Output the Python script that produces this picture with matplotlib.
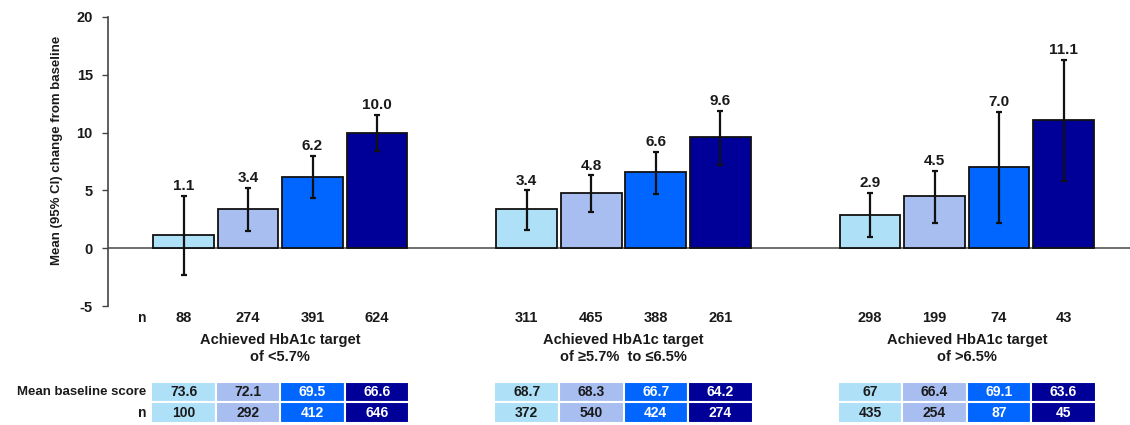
import numpy as np
import matplotlib.pyplot as plt
from matplotlib.transforms import blended_transform_factory

plt.rcParams['font.family'] = ['Liberation Sans', 'DejaVu Sans']
plt.rcParams['font.weight'] = 'bold'
plt.rcParams['axes.labelweight'] = 'bold'
plt.rcParams['axes.unicode_minus'] = False

# mean change, lower and upper 95% CI per target group (4 subgroups each)
groups = ["Achieved HbA1c target\nof <5.7%",
          "Achieved HbA1c target\nof \u22655.7%  to \u22646.5%",
          "Achieved HbA1c target\nof >6.5%"]
means = [[1.1, 3.4, 6.2, 10.0],
         [3.4, 4.8, 6.6, 9.6],
         [2.9, 4.5, 7.0, 11.1]]
ci_low = [[-2.3, 1.5, 4.3, 8.4],
          [1.6, 3.1, 4.7, 7.2],
          [1.0, 2.2, 2.2, 5.8]]
ci_high = [[4.5, 5.2, 8.0, 11.5],
           [5.0, 6.3, 8.3, 11.9],
           [4.8, 6.7, 11.8, 16.3]]
n_change = [[88, 274, 391, 624],
            [311, 465, 388, 261],
            [298, 199, 74, 43]]
baseline = [["73.6", "72.1", "69.5", "66.6"],
            ["68.7", "68.3", "66.7", "64.2"],
            ["67", "66.4", "69.1", "63.6"]]
n_baseline = [[100, 292, 412, 646],
              [372, 540, 424, 274],
              [435, 254, 87, 45]]

colors = ["#AEE0F8", "#A8BEF0", "#0066FF", "#000099"]
text_colors = ["#1a1a1a", "#1a1a1a", "white", "white"]
group_gap = 5.32

fig = plt.figure(figsize=(11.3, 4.25), dpi=100)
ax = fig.add_axes([0.0956, 0.28, 0.9044, 0.68])
tab = fig.add_axes([0.0956, 0.005, 0.9044, 0.096], sharex=ax)
trans = blended_transform_factory(ax.transData, fig.transFigure)

for g in range(3):
    x = g * group_gap + np.arange(4)
    m = np.array(means[g])
    lo = m - np.array(ci_low[g])
    hi = np.array(ci_high[g]) - m
    ax.bar(x, m, width=0.94, color=colors, edgecolor="#111111", linewidth=1.3, zorder=2)
    ax.errorbar(x, m, yerr=[lo, hi], fmt="none", ecolor="#111111",
                elinewidth=1.6, capsize=2.2, capthick=1.6, zorder=3)
    for xi, mi, top in zip(x, m, ci_high[g]):
        ax.annotate(f"{mi:.1f}", (xi, top), xytext=(0, 2), textcoords="offset points",
                    ha="center", va="bottom", fontsize=11, color="#1a1a1a")

    # n under the plot and group caption
    for xi, nv in zip(x, n_change[g]):
        fig.text(xi, 0.252, str(nv), transform=trans, ha="center", va="center",
                 fontsize=10.5, color="#1a1a1a")
    fig.text(x.mean(), 0.18, groups[g], transform=trans, ha="center", va="center",
             fontsize=10.5, color="#1a1a1a", linespacing=1.2)

    # baseline table
    tab.bar(x, [1, 1, 1, 1], bottom=1, width=1.0, color=colors, edgecolor="white", linewidth=1.5)
    tab.bar(x, [1, 1, 1, 1], bottom=0, width=1.0, color=colors, edgecolor="white", linewidth=1.5)
    for xi, b, nb, tc in zip(x, baseline[g], n_baseline[g], text_colors):
        tab.text(xi, 1.5, b, ha="center", va="center", fontsize=10, color=tc)
        tab.text(xi, 0.5, str(nb), ha="center", va="center", fontsize=10, color=tc)

fig.text(-0.58, 0.252, "n", transform=trans, ha="right", va="center", fontsize=10, color="#1a1a1a")
tab.text(-0.58, 1.5, "Mean baseline score", ha="right", va="center", fontsize=9.5, color="#1a1a1a")
tab.text(-0.58, 0.5, "n", ha="right", va="center", fontsize=10, color="#1a1a1a")

ax.axhline(0, color="#555555", linewidth=1.2, zorder=1)
ax.set_xlim(-1.17, 14.67)
ax.set_ylim(-5, 20)
ax.set_yticks([-5, 0, 5, 10, 15, 20])
ax.tick_params(axis="y", direction="out", length=4, width=1, color="#444444",
               labelsize=10.5, labelcolor="#1a1a1a", pad=7)
ax.tick_params(axis="x", bottom=False, labelbottom=False)
for s in ["top", "right", "bottom"]:
    ax.spines[s].set_visible(False)
ax.spines["left"].set_color("#444444")
ax.spines["left"].set_linewidth(1.2)
ax.set_ylabel("Mean (95% CI) change from baseline", fontsize=9.5, color="#1a1a1a")
ax.yaxis.set_label_coords(-0.044, 0.54)

tab.set_ylim(0, 2)
tab.axis("off")

fig.savefig("out.png", dpi=100)
